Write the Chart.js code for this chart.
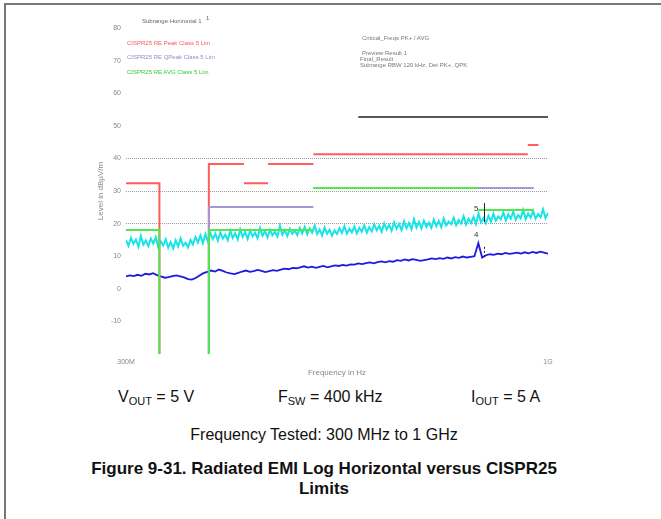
<!DOCTYPE html>
<html><head><meta charset="utf-8">
<script src="https://cdn.jsdelivr.net/npm/chart.js@4.4.1/dist/chart.umd.min.js"></script>
<style>
html,body{margin:0;padding:0;background:#fff;}
body{width:661px;height:519px;position:relative;overflow:hidden;font-family:"Liberation Sans",Arial,sans-serif;}
#frameTop{position:absolute;left:4px;top:3px;width:657px;height:2px;background:#777;}
#frameLeft{position:absolute;left:4px;top:3px;width:2px;height:516px;background:#777;}
#c{position:absolute;left:0;top:0;}
.t{position:absolute;font-size:6px;line-height:7px;white-space:nowrap;color:#888;}
.p{position:absolute;font-size:16px;line-height:18px;white-space:nowrap;color:#111;}
.p sub{font-size:11px;vertical-align:-3px;line-height:0;}
.ctr{position:absolute;left:0;width:648px;text-align:center;white-space:nowrap;color:#111;}
</style></head>
<body>
<div id="frameTop"></div><div id="frameLeft"></div>
<canvas id="c" width="661" height="378"></canvas>

<div class="t" style="left:142px;top:18px;color:#666">Subrange Horizontal 1</div>
<div class="t" style="left:206px;top:15px;color:#666">1</div>
<div class="t" style="left:127px;top:40px;color:#f55">CISPR25 RE Peak Class 5 Lim</div>
<div class="t" style="left:127px;top:54px;color:#9a84cc">CISPR25 RE QPeak Class 5 Lim</div>
<div class="t" style="left:127px;top:69px;color:#3c3">CISPR25 RE AVG Class 5 Lim</div>

<div class="t" style="left:362px;top:35px;color:#777">Critical_Freqs PK+ / AVG</div>
<div class="t" style="left:362px;top:50px;color:#777">Preview Result 1</div>
<div class="t" style="left:360px;top:56px;color:#777">Final_Result</div>
<div class="t" style="left:360px;top:62px;color:#777">Subrange RBW 120 kHz, Det PK+, QPK</div>

<div class="p" style="left:118px;top:388px">V<sub>OUT</sub> = 5 V</div>
<div class="p" style="left:278px;top:388px">F<sub>SW</sub> = 400 kHz</div>
<div class="p" style="left:471px;top:388px">I<sub>OUT</sub> = 5 A</div>
<div class="ctr" style="top:426px;font-size:16px;line-height:18px">Frequency Tested: 300 MHz to 1 GHz</div>
<div class="ctr" style="top:459px;font-size:17px;line-height:20px;font-weight:bold">Figure 9-31. Radiated EMI Log Horizontal versus CISPR25<br>Limits</div>

<script>
// ---- axis values ----
const yTicks = [80, 70, 60, 50, 40, 30, 20, 10, 0, -10, -20];
const gridLevels = [20, 30, 40];
const xTickFreqs = [300, 1000];
const xTickLabels = ['300M', '1G'];

// ---- limit lines (MHz, dBuV/m); null = break ----
const peakLimitFreq  = [300, 330, 330, null, 380, 380, 420, null, 420, 450, null, 450, 512, null, 512, 944, null, 944, 973];
const peakLimitLevel = [32.4, 32.4, -20, null, -20, 38.3, 38.3, null, 32.4, 32.4, null, 38.3, 38.3, null, 41.3, 41.3, null, 44.1, 44.1];

const qpLimitFreq  = [380, 380, 512, null, 512, 960];
const qpLimitLevel = [-20, 25.1, 25.1, null, 30.9, 30.9];

const avgLimitFreq  = [300, 330, 330, null, 380, 380, 512, null, 512, 820, null, 820, 960];
const avgLimitLevel = [18.0, 18.0, -20, null, -20, 18.0, 18.0, null, 30.9, 30.9, null, 24.2, 24.2];

const refLineFreq  = [582, 1000];
const refLineLevel = [52.7, 52.7];

// ---- measured traces (dBuV/m), evenly spaced across 300 MHz - 1 GHz sweep ----
const peakTrace = [
 14.9,13.2,15.6,13.8,15.1,12.9,16.2,13.5,14.8,13.1,15.4,13.9,15.8,12.8,14.6,13.3,15.2,12.6,14.3,12.4,14.9,13.0,15.5,13.2,14.1,12.7,15.0,13.6,15.9,14.2,16.4,14.0,16.8,14.5,17.1,
 15.2,16.9,14.8,17.3,15.4,16.6,14.9,17.8,15.6,17.0,15.1,18.2,15.9,17.4,15.3,17.9,16.1,17.2,15.5,18.6,16.3,17.7,15.8,18.1,16.4,17.5,16.0,19.3,16.6,18.0,16.2,18.4,16.9,17.8,16.5,18.7,
 17.0,19.0,16.7,18.5,17.2,19.4,16.8,18.2,16.4,18.8,16.9,18.1,16.3,17.9,16.8,18.6,17.1,19.2,16.9,18.4,17.3,19.1,17.0,18.7,17.5,19.5,17.2,18.9,17.6,19.8,
 17.9,19.3,17.5,20.1,18.2,19.6,17.8,20.4,18.4,19.9,18.0,20.7,18.6,20.2,18.3,21.4,18.8,20.5,18.5,20.9,19.0,20.3,18.7,21.2,19.2,20.8,18.9,21.6,19.4,20.6,
 19.8,21.8,19.5,21.1,20.0,22.3,19.7,21.5,20.2,22.0,19.9,23.1,20.4,21.7,20.1,
 22.4,20.6,23.0,20.9,22.2,21.3,23.4,21.0,22.8,21.5,23.7,21.2,22.6,21.6,24.2,21.4,23.1,21.8,23.9,21.5,22.9,21.9,24.4,21.7,23.3
];
const avgTrace = [
 3.8,4.1,3.9,4.3,4.0,4.6,4.4,4.8,4.2,3.8,3.4,3.6,3.9,4.1,3.8,3.5,3.0,2.8,3.3,4.1,4.8,5.2,
 5.6,5.3,5.9,5.5,5.0,4.7,4.5,4.9,5.3,5.6,5.2,5.4,5.8,5.5,5.1,5.4,5.7,5.5,5.9,6.2,6.0,6.4,6.3,6.6,
 6.9,6.5,6.8,6.4,6.7,7.0,6.6,6.9,7.2,7.0,7.3,7.1,7.5,7.4,7.8,7.6,7.9,8.1,7.8,8.2,
 8.4,8.1,8.5,8.3,8.8,8.6,9.0,8.7,9.1,8.9,8.6,8.8,9.0,9.3,9.1,9.4,9.2,9.6,9.3,9.7,9.5,9.9,9.6,9.8,10.0,
 14.0,
 9.6,10.3,10.6,10.4,10.8,10.6,11.0,10.7,10.9,11.1,10.8,11.2,10.9,11.3,11.0,11.4,11.1,10.8
];

// ---- markers ----
const markerFreq      = [834, 834];
const markerFromLevel = [20.5, 9.8];
const markerToLevel   = [26.3, 13.4];
const markerDashed    = [false, true];
const markerLabel     = ['5', '4'];
const markerLabelFreq = [815, 815];
const markerLabelLevel= [24.5, 16.6];

function toPoints(freqs, levels) {
  const pts = [];
  let last = freqs[0];
  for (let i = 0; i < freqs.length; i++) {
    if (freqs[i] !== null) last = freqs[i];
    pts.push({x: last, y: levels[i]});
  }
  return pts;
}
function tracePoints(vals) {
  return vals.map((v, i) => ({x: i / (vals.length - 1), y: v}));
}

const markerPlugin = {
  id: 'markers',
  afterDatasetsDraw(chart) {
    const ctx = chart.ctx, xs = chart.scales.x, ys = chart.scales.y;
    ctx.save();
    for (let i = 0; i < markerFreq.length; i++) {
      const x = Math.round(xs.getPixelForValue(markerFreq[i])) + 0.5;
      ctx.beginPath();
      ctx.strokeStyle = '#222';
      ctx.lineWidth = 1;
      ctx.setLineDash(markerDashed[i] ? [2, 2] : []);
      ctx.moveTo(x, ys.getPixelForValue(markerFromLevel[i]));
      ctx.lineTo(x, ys.getPixelForValue(markerToLevel[i]));
      ctx.stroke();
      ctx.setLineDash([]);
      ctx.fillStyle = '#333';
      ctx.font = '8px "Liberation Sans", Arial';
      ctx.textAlign = 'center';
      ctx.textBaseline = 'middle';
      ctx.fillText(markerLabel[i], xs.getPixelForValue(markerLabelFreq[i]), ys.getPixelForValue(markerLabelLevel[i]));
    }
    ctx.restore();
  }
};

const lim = (label, freqs, levels, color, w) => ({
  label, data: toPoints(freqs, levels), showLine: true, spanGaps: false,
  borderColor: color, borderWidth: w, pointRadius: 0, xAxisID: 'x', yAxisID: 'y'
});
const tr = (label, vals, color, w) => ({
  label, data: tracePoints(vals), showLine: true, borderColor: color, borderWidth: w,
  pointRadius: 0, xAxisID: 'xt', yAxisID: 'y'
});

new Chart(document.getElementById('c'), {
  type: 'scatter',
  data: {
    datasets: [
      lim('AVG limit', avgLimitFreq, avgLimitLevel, '#50e850', 2),
      lim('QP limit', qpLimitFreq, qpLimitLevel, '#a894d8', 2),
      lim('Peak limit', peakLimitFreq, peakLimitLevel, '#ff5c5c', 2),
      lim('Reference', refLineFreq, refLineLevel, '#222', 1.3),
      tr('Peak', peakTrace, '#18e4e8', 2),
      tr('Average', avgTrace, '#1c1ce0', 1.8)
    ]
  },
  options: {
    responsive: false, animation: false,
    layout: {padding: {left: 96, right: 113, top: 28, bottom: 0}},
    plugins: {legend: {display: false}, tooltip: {enabled: false}},
    scales: {
      x: {
        type: 'logarithmic', min: 300, max: 1000, position: 'bottom',
        afterBuildTicks: s => { s.ticks = xTickFreqs.map(v => ({value: v})); },
        ticks: {autoSkip: false, maxRotation: 0, font: {size: 7}, color: '#888', padding: 4,
                callback: (v) => xTickLabels[xTickFreqs.indexOf(v)] ?? ''},
        grid: {display: false, drawTicks: false},
        border: {display: false},
        title: {display: true, text: 'Frequency in Hz', font: {size: 8}, color: '#888', padding: {top: 2, bottom: 0}},
        afterFit: s => { s.height = 24; }
      },
      xt: {type: 'linear', min: 0, max: 1, display: false},
      y: {
        type: 'linear', min: -20, max: 80,
        afterBuildTicks: s => { s.ticks = yTicks.map(v => ({value: v})); },
        ticks: {font: {size: 7}, color: '#888', padding: 5,
                callback: v => (v === -20 ? '' : String(v))},
        grid: {drawTicks: false, lineWidth: 1,
               color: c => (c.tick && gridLevels.includes(c.tick.value)) ? '#9a9a9a' : 'rgba(0,0,0,0)'},
        border: {display: false, dash: [1, 1]},
        title: {display: true, text: 'Level in dBµV/m', font: {size: 8}, color: '#888', padding: 0},
        afterFit: s => { s.width = 30; }
      }
    }
  },
  plugins: [markerPlugin]
});
</script>
</body></html>
